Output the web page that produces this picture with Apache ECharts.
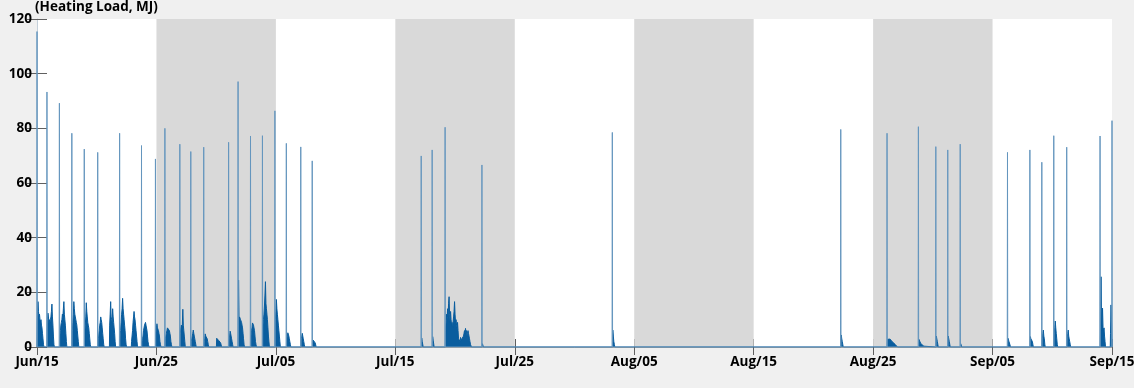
<!DOCTYPE html>
<html>
<head>
<meta charset="utf-8">
<script src="https://cdn.jsdelivr.net/npm/echarts@6/dist/echarts.min.js"></script>
<style>
html,body{margin:0;padding:0;background:#f0f0f0;}
#chart{width:1134px;height:388px;}
</style>
</head>
<body>
<div id="chart"></div>
<script>
// x axis in hours from Jun/15 00:00; ticks every 240 h
const tickLabels = ['Jun/15','Jun/25','Jul/05','Jul/15','Jul/25','Aug/05','Aug/15','Aug/25','Sep/05','Sep/15'];
const tickStep = 240;
const shadedBands = [[1,2],[3,4],[5,6],[7,8]]; // tick index pairs
const yTicks = [0,20,40,60,80,100,120];

// morning start-up peaks (hour, MJ)
const spikeHour = [0,20,45,70,95,122,166,210,238,257,287,309,335,385,404,429,453,478,501,530,553,772,794,820,894,1156,1615,1708,1771,1806,1830,1855,1950,1995,2019,2043,2069,2136,2160];
const spikeMJ = [115.4,93.3,89.2,78.2,72.4,71.2,78.2,73.7,68.8,80,74.2,71.5,73.1,74.9,97.1,77.2,77.3,86.4,74.5,73.2,68.1,69.9,72.1,80.4,66.6,78.5,79.6,78.2,80.6,73.3,72.1,74.2,71.2,72.1,67.6,77.3,73.1,77.2,82.8];

// operating blocks: start hour and hourly loads (MJ)
const blockStart = [1,21,46,71,96,123,146,167,190,211,239,258,288,310,336,361,386,405,430,454,479,502,531,554,773,795,821,895,1157,1616,1709,1772,1807,1831,1856,1951,1996,2020,2044,2070,2137,2157];
const blockLoads = [
  [12,16.6,13,11,12,10,9,10,8,7,5,3,1],
  [10,12.4,11,9,10,9,10,11,13,15.7,11,8,4,1],
  [4,6,8,9,10,12,11,14,16.6,12,10,8,5,2],
  [6,9,12,16.6,14,12,11,10,9,8,6,4,2],
  [5,8,11,16.2,13,11,9,8,7,5,3,1],
  [3,4,6,8,9,11,10,9,7,5,3,1],
  [8,12,16.6,11,10,9,14,11,9,7,5,2],
  [4,6,9,12,14,17.8,14,12,10,8,6,3,1],
  [2,4,6,9,11,13,11,10,8,6,4,2],
  [2,3,4,6,7,8,8,9,8,8,6,4,2,1],
  [5,7,8.5,7,7,6,5,4,2,1],
  [3,4,5,6,7,7.7,7.5,7,6,5,4,2,1],
  [5,7,8,7,8,13.8,8,6,4,2],
  [2,3,4,5,6.2,5,4,3,2,1],
  [2,3,4.8,4,3.5,4,3,2,1],
  [3.2,2.8,2.5,2.8,2.4,2.2,2,1.8,1.5,1],
  [3,4,5.8,5,4,3,2,1],
  [24.5,10,11,10.5,10,9.5,9,8,7,5,3,1],
  [4,6,7,8.8,8.5,8,7,6,4,2,1],
  [8,10,12,15,19,23.9,16,14,12,10,7,4,2],
  [10,13,17.4,14,12,10,8,6,4,2],
  [3,4,5.2,4.5,4,3,2,1],
  [3,4,5,4,3,2,1],
  [1.5,2.5,3.2,2.5,2,1.5,1],
  [3.3,2,1.5],
  [3.8,2.5,2],
  [6,9,12,10,14,11,16,18.4,12,9,13,10,8,9,7,9,11,13,16.6,12,9,10,8,7,9,6,3,2.5,3,2,3.5,2.5,3,2,3,2.5,4,5,6,5,6.8,5,6,4,5,6,5,4,3,2,1,0.5],
  [1.2,0.8],
  [6.2,4,2,1],
  [4.4,3,2,1],
  [2.8,2.4,2.6,2.1,2.5,2.9,2.6,2.2,2.4,2,1.8,1.9,1.5,1.3,1.2,1,0.9,0.7,0.5,0.3],
  [2.8,2.5,2,1.5,1.2,1,1.1,0.8,0.6,0.5,0.3],
  [4,3,2,1],
  [4,3,2,1],
  [1.2,0.6],
  [3.2,2.5,2,1.5,0.8],
  [3.8,3,3.5,2.5,2,1],
  [3,5,6.2,4,3,1],
  [5,7,9.5,7,5,3,1],
  [3,5,6.2,4,3,2,1],
  [7,25.7,6,8,14.2,7,6,7,4,2],
  [5,15.4,10]
];

const spikeData = [];
spikeHour.forEach((h, i) => {
  spikeData.push([h - 0.5, 0], [h, spikeMJ[i]], [h + 0.5, 0]);
});
const blockData = [[0, 0]];
blockStart.forEach((s, i) => {
  const vals = blockLoads[i];
  blockData.push([s - 0.5, 0]);
  vals.forEach((v, k) => blockData.push([s + k, v]));
  blockData.push([s + vals.length, 0]);
});
const xMax = tickStep * (tickLabels.length - 1);
blockData.push([xMax, 0]);

const bandAreas = shadedBands.map(b => [{xAxis: b[0] * tickStep}, {xAxis: b[1] * tickStep}]);

const font = 'Open Sans';
const chart = echarts.init(document.getElementById('chart'), null, {renderer: 'canvas'});
chart.setOption({
  backgroundColor: '#f0f0f0',
  animation: false,
  textStyle: {fontFamily: font},
  graphic: [{
    type: 'text', left: 35, top: 0,
    style: {text: '(Heating Load, MJ)', fontFamily: font, fontWeight: 'bold', fontSize: 13.5, fill: '#000'}
  }],
  grid: {left: 37, right: 22, top: 19, bottom: 41, show: true, backgroundColor: '#ffffff', borderWidth: 0,
    containLabel: false, outerBoundsMode: 'none'},
  xAxis: [{
    type: 'value', min: 0, max: xMax, interval: tickStep, position: 'bottom',
    axisLine: {show: true, lineStyle: {color: '#a8b8c6', width: 1}},
    axisTick: {show: true, inside: true, length: 8, lineStyle: {color: '#606060'}},
    axisLabel: {show: true, margin: 8, color: '#000', fontFamily: font, fontWeight: 'bold', fontSize: 13.5,
      showMinLabel: true, showMaxLabel: true,
      formatter: v => tickLabels[Math.round(v / tickStep)] || ''},
    splitLine: {show: false}
  }, {
    type: 'value', min: 0, max: xMax, interval: tickStep, position: 'top',
    axisLine: {show: true, lineStyle: {color: '#a0a0a0', width: 1}},
    axisTick: {show: true, inside: true, length: 8, lineStyle: {color: '#606060'}},
    axisLabel: {show: false},
    splitLine: {show: false}
  }],
  yAxis: [{
    type: 'value', min: yTicks[0], max: yTicks[yTicks.length - 1], interval: yTicks[1] - yTicks[0], position: 'left',
    axisLine: {show: true, lineStyle: {color: '#c4d0da', width: 1}},
    axisTick: {show: true, inside: true, length: 10, lineStyle: {color: '#606060'}},
    axisLabel: {show: true, margin: 5, color: '#000', fontFamily: font, fontWeight: 'bold', fontSize: 13.5},
    splitLine: {show: false}
  }, {
    type: 'value', min: yTicks[0], max: yTicks[yTicks.length - 1], interval: yTicks[1] - yTicks[0], position: 'right',
    axisLine: {show: false},
    axisTick: {show: true, inside: true, length: 10, lineStyle: {color: '#606060'}},
    axisLabel: {show: false},
    splitLine: {show: false}
  }],
  series: [{
    name: 'bands', type: 'line', data: [], z: 1, silent: true,
    markArea: {silent: true, itemStyle: {color: '#d9d9d9'}, data: bandAreas}
  }, {
    name: 'load', type: 'line', data: blockData, z: 3, symbol: 'none', clip: true,
    lineStyle: {color: '#0a5d9e', width: 1},
    areaStyle: {color: '#0a5d9e', opacity: 1, origin: 'start'}
  }, {
    name: 'peaks', type: 'line', data: spikeData, z: 4, symbol: 'none', clip: true,
    lineStyle: {color: '#6596be', width: 1}
  }]
});
</script>
</body>
</html>
